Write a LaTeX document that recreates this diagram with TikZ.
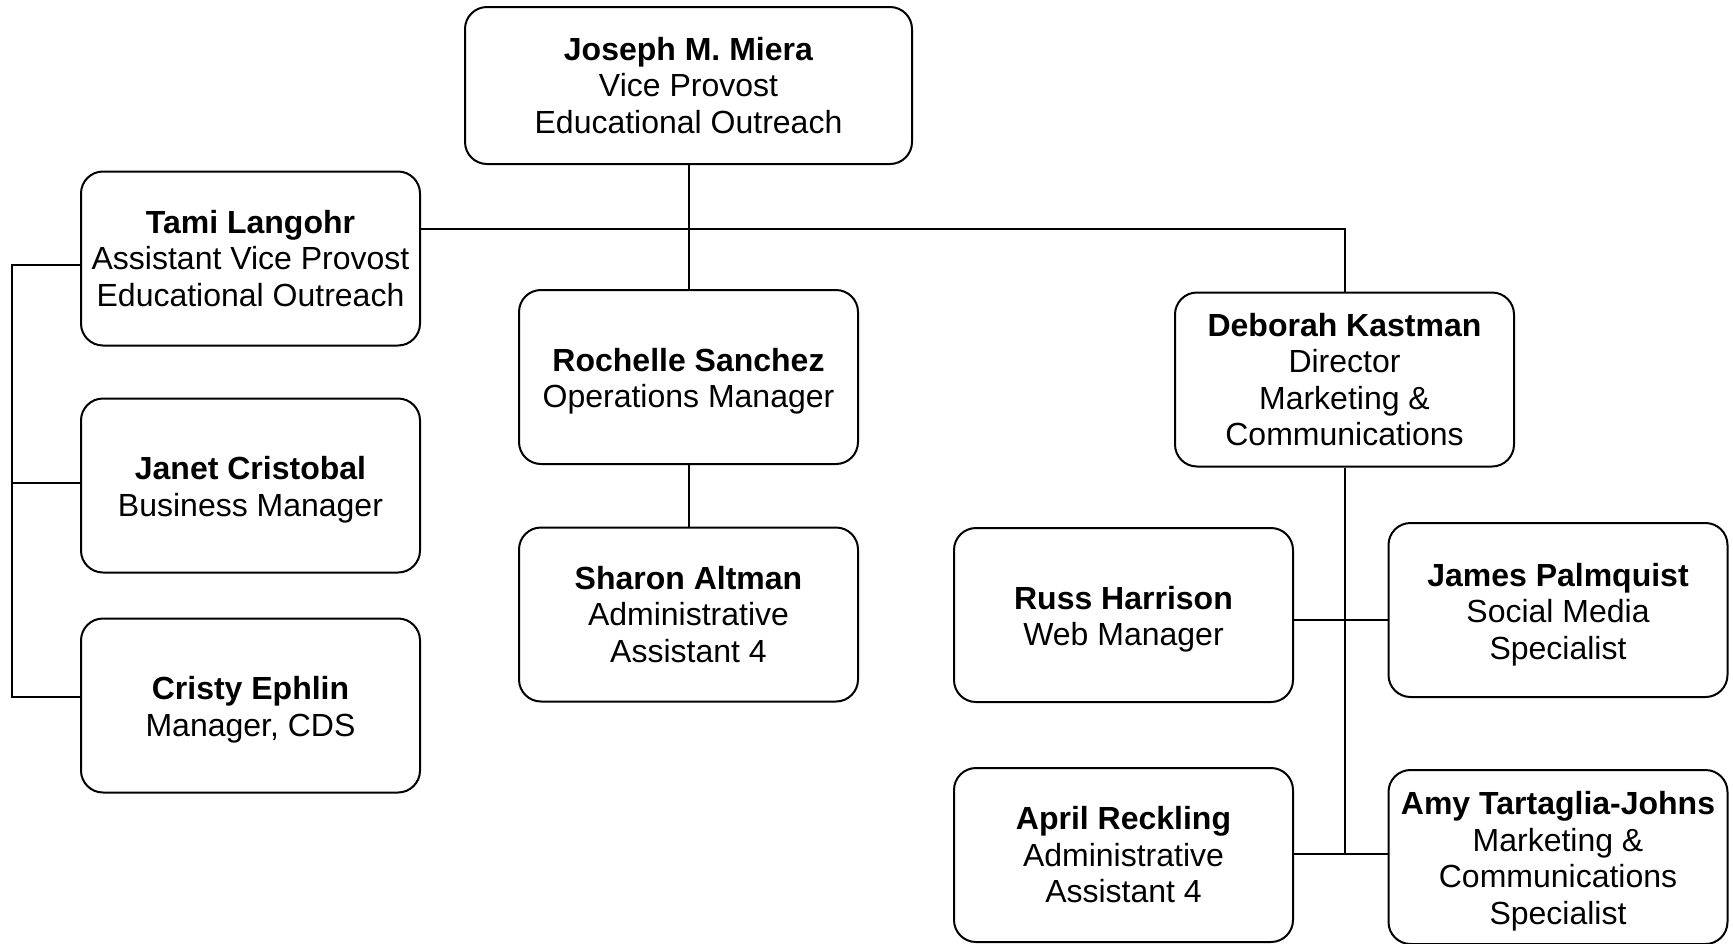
\documentclass[tikz,border=0pt]{standalone}
\usepackage{fontspec}
\setmainfont{Liberation Sans}
\newcommand{\topgap}{\rule{0pt}{32pt}}
\begin{document}
\begin{tikzpicture}[x=1pt,y=-1pt,
  person/.style={draw=black, line width=2pt, rounded corners=22pt, fill=white,
    minimum width=339pt, minimum height=174pt, align=center, inner sep=2pt,
    font=\fontsize{32}{36.5}\selectfont},
  link/.style={draw=black, line width=2pt}]
\useasboundingbox (0,0) rectangle (1733,943);
\fill[white] (0,0) rectangle (1733,943);
% nodes
\node[person, minimum width=447pt, minimum height=157pt] (joseph) at (688.5,85.5) {\textbf{Joseph M. Miera}\\Vice Provost\\Educational Outreach};
\node[person] (tami) at (250.5,258.5) {\textbf{Tami Langohr}\\Assistant Vice Provost\\Educational Outreach};
\node[person] (janet) at (250.5,485.5) {\topgap\textbf{Janet Cristobal}\\Business Manager};
\node[person] (cristy) at (250.5,705.5) {\topgap\textbf{Cristy Ephlin}\\Manager, CDS};
\node[person] (rochelle) at (688.5,377) {\topgap\textbf{Rochelle Sanchez}\\Operations Manager};
\node[person] (sharon) at (688.5,614.5) {\textbf{Sharon Altman}\\Administrative\\Assistant 4};
\node[person] (deborah) at (1344.5,379.5) {\textbf{Deborah Kastman}\\Director\\Marketing \&\\Communications};
\node[person] (russ) at (1123.5,615) {\topgap\textbf{Russ Harrison}\\Web Manager};
\node[person] (james) at (1558,610) {\topgap\textbf{James Palmquist}\\Social Media\\Specialist};
\node[person] (april) at (1123.5,855) {\textbf{April Reckling}\\Administrative\\Assistant 4};
\node[person] (amy) at (1558,857) {\topgap\textbf{Amy Tartaglia-Johns}\\Marketing \&\\Communications\\Specialist};
% helper coordinates
\coordinate (hb) at (deborah.north |- 0,229);
\coordinate (lt) at (12,265);
\coordinate (lj) at (12,483);
\coordinate (lc) at (12,697);
\coordinate (r1) at (deborah.south |- 0,620);
\coordinate (r2) at (deborah.south |- 0,854);
% connectors
\draw[link] (joseph.south) -- (rochelle.north);
\draw[link] (rochelle.south) -- (sharon.north);
\draw[link] (tami.east |- hb) -- (hb) -- (deborah.north);
\draw[link] (tami.west |- lt) -- (lt) -- (lc) -- (cristy.west |- lc);
\draw[link] (janet.west |- lj) -- (lj);
\draw[link] (deborah.south) -- (r2);
\draw[link] (russ.east |- r1) -- (james.west |- r1);
\draw[link] (april.east |- r2) -- (amy.west |- r2);
\end{tikzpicture}
\end{document}
